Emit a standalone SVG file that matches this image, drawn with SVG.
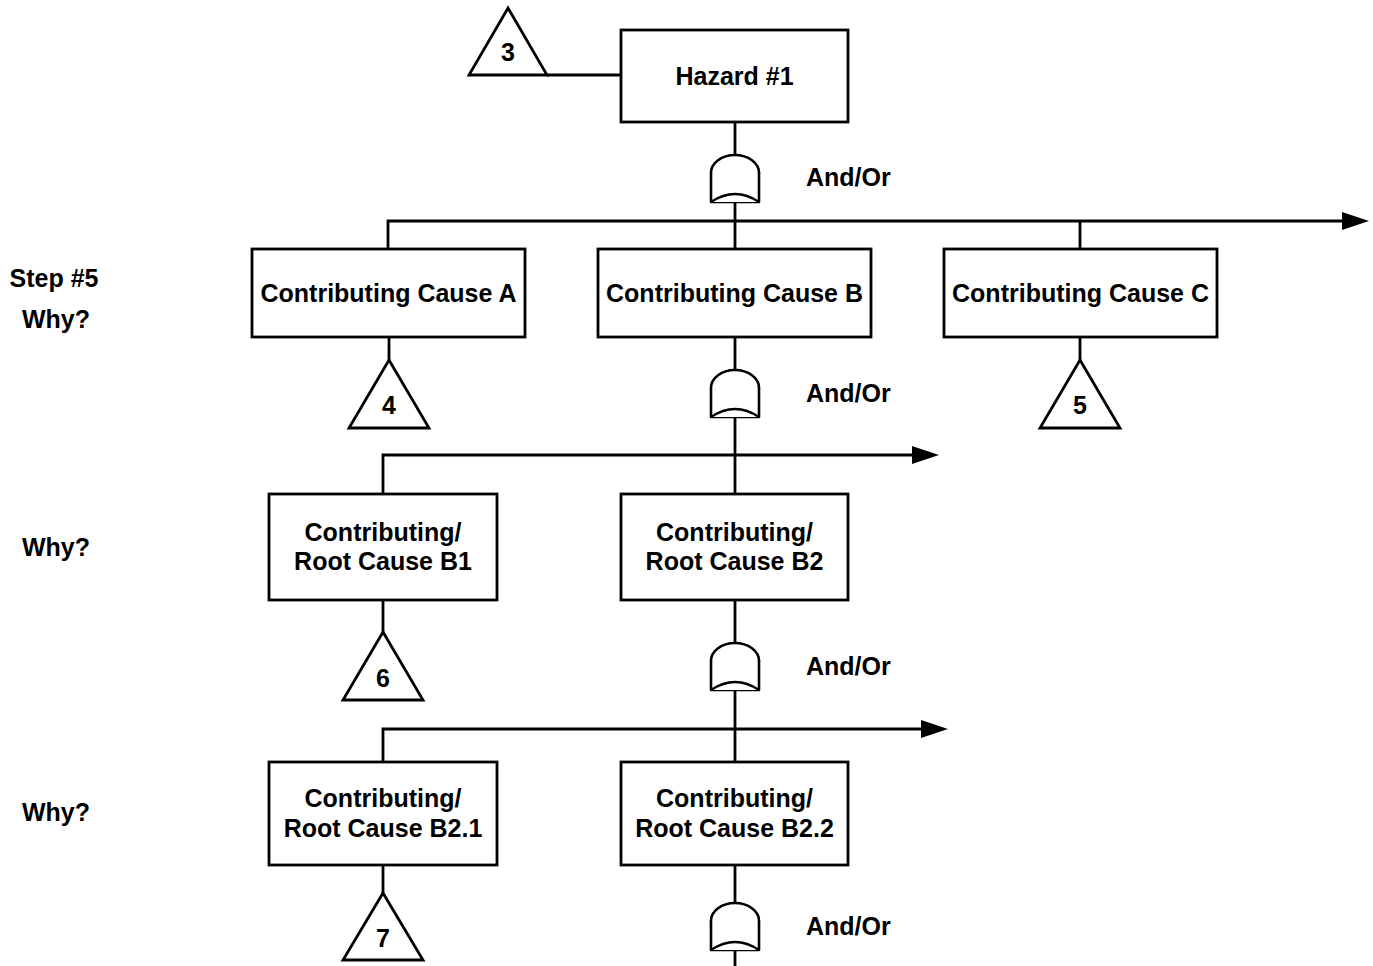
<svg xmlns="http://www.w3.org/2000/svg" width="1373" height="966" viewBox="0 0 1373 966">
<style>
.box{fill:#fff;stroke:#000;stroke-width:2.8}
.ln{fill:none;stroke:#000;stroke-width:2.8}
.gate{fill:#fff;stroke:#000;stroke-width:2.6;stroke-linejoin:round}
.tri{fill:#fff;stroke:#000;stroke-width:2.8;stroke-linejoin:miter}
text{font-family:"Liberation Sans",Arial,sans-serif;font-weight:bold;font-size:25px;fill:#000}
.c{text-anchor:middle}
</style>
<defs>
<marker id="arr" markerUnits="userSpaceOnUse" markerWidth="28" markerHeight="20" refX="0" refY="9" orient="auto">
<path d="M0,0 L27,9 L0,18 Z" fill="#000"/>
</marker>
<g id="gateShape">
<path d="M-24,47 L-24,18 Q-22,3 0,0 Q22,3 24,18 L24,47 Z" class="gate"/>
<path d="M-24,18 A24,18 0 0 1 24,18" class="gate" fill="none"/>
<path d="M-24,47 Q0,31 24,47" class="gate" fill="none"/>
</g>
</defs>
<g id="connectors">
<path class="ln" d="M735,122 V155"/>
<path class="ln" d="M735,194 V249"/>
<path class="ln" d="M547,75 H621"/>
<path class="ln" d="M388,249 V221 H1342" marker-end="url(#arr)"/>
<path class="ln" d="M1080,221 V249"/>
<path class="ln" d="M389,337 V360"/>
<path class="ln" d="M1080,337 V360"/>
<path class="ln" d="M735,337 V370"/>
<path class="ln" d="M735,409 V494"/>
<path class="ln" d="M383,494 V455 H912" marker-end="url(#arr)"/>
<path class="ln" d="M383,600 V632"/>
<path class="ln" d="M735,600 V643"/>
<path class="ln" d="M735,682 V762"/>
<path class="ln" d="M383,762 V729 H921" marker-end="url(#arr)"/>
<path class="ln" d="M383,865 V893"/>
<path class="ln" d="M735,865 V903"/>
<path class="ln" d="M735,942 V966"/>
</g>
<g id="hazard1"><rect class="box" x="621" y="30" width="227" height="92"/><text class="c" x="734.5" y="85">Hazard #1</text></g>
<g id="tri3"><polygon class="tri" points="508,8 547,75 469,75"/><text class="c" x="508" y="61">3</text></g>
<g id="gate1"><use href="#gateShape" x="735" y="155"/><text x="806" y="186">And/Or</text></g>
<g id="causeA"><rect class="box" x="252" y="249" width="273" height="88"/><text class="c" x="388.5" y="302">Contributing Cause A</text></g>
<g id="causeB"><rect class="box" x="598" y="249" width="273" height="88"/><text class="c" x="734.5" y="302">Contributing Cause B</text></g>
<g id="causeC"><rect class="box" x="944" y="249" width="273" height="88"/><text class="c" x="1080.5" y="302">Contributing Cause C</text></g>
<g id="tri4"><polygon class="tri" points="389,360 429,428 349,428"/><text class="c" x="389" y="414">4</text></g>
<g id="tri5"><polygon class="tri" points="1080,360 1120,428 1040,428"/><text class="c" x="1080" y="414">5</text></g>
<g id="gate2"><use href="#gateShape" x="735" y="370"/><text x="806" y="402">And/Or</text></g>
<g id="causeB1"><rect class="box" x="269" y="494" width="228" height="106"/><text class="c" x="383" y="541">Contributing/</text><text class="c" x="383" y="570">Root Cause B1</text></g>
<g id="causeB2"><rect class="box" x="621" y="494" width="227" height="106"/><text class="c" x="734.5" y="541">Contributing/</text><text class="c" x="734.5" y="570">Root Cause B2</text></g>
<g id="tri6"><polygon class="tri" points="383,632 423,700 343,700"/><text class="c" x="383" y="687">6</text></g>
<g id="gate3"><use href="#gateShape" x="735" y="643"/><text x="806" y="675">And/Or</text></g>
<g id="causeB21"><rect class="box" x="269" y="762" width="228" height="103"/><text class="c" x="383" y="807">Contributing/</text><text class="c" x="383" y="837">Root Cause B2.1</text></g>
<g id="causeB22"><rect class="box" x="621" y="762" width="227" height="103"/><text class="c" x="734.5" y="807">Contributing/</text><text class="c" x="734.5" y="837">Root Cause B2.2</text></g>
<g id="tri7"><polygon class="tri" points="383,893 423,960 343,960"/><text class="c" x="383" y="947">7</text></g>
<g id="gate4"><use href="#gateShape" x="735" y="903"/><text x="806" y="935">And/Or</text></g>
<g id="sideLabels">
<text class="c" x="54" y="287">Step #5</text>
<text class="c" x="56" y="328">Why?</text>
<text class="c" x="56" y="556">Why?</text>
<text class="c" x="56" y="821">Why?</text>
</g>
</svg>
